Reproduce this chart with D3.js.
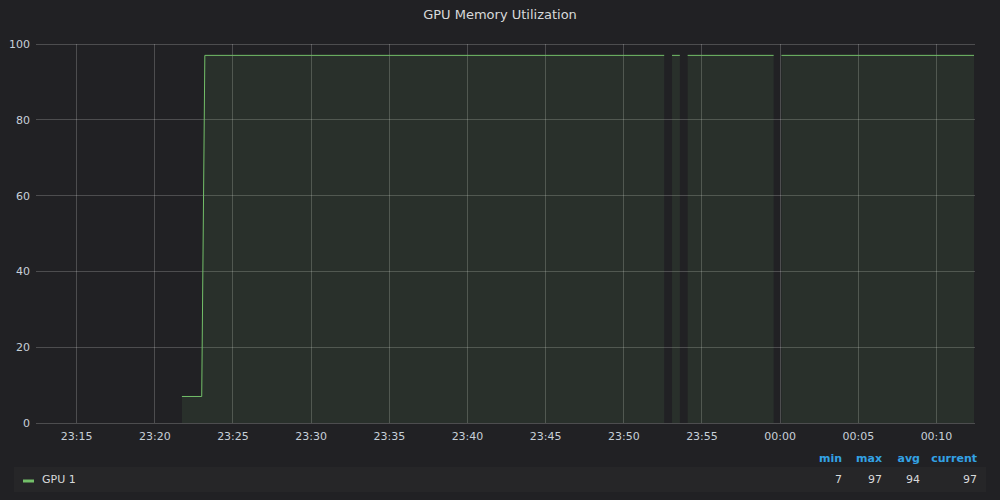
<!DOCTYPE html>
<html><head><meta charset="utf-8">
<script src="https://cdn.jsdelivr.net/npm/d3@7"></script>
<style>
html,body{margin:0;padding:0;background:#212124;}
svg{display:block;font-family:"DejaVu Sans",sans-serif;}
</style></head>
<body><svg id="c" width="1000" height="500"></svg>
<script>
// ---- data ----
const title = "GPU Memory Utilization";
const seriesName = "GPU 1";
const pointTimes = ["23:21:44","23:23:00","23:23:12","23:52:35","23:52:50","23:53:05","23:53:35","23:53:50","23:54:05","23:59:35","23:59:50","00:00:05","00:12:24"];
const pointValues = [7,7,97,97,null,97,97,null,97,97,null,97,97];
const domainTimes = ["23:12:24","00:12:24"];
const yTicks = [0,20,40,60,80,100];
const legendHeaders = ["min","max","avg","current"];
const legendValues = [7,97,94,97];

// ---- helpers ----
function parseT(s){
  const [h,m,sec] = s.split(":").map(Number);
  const day = h < 12 ? 2 : 1;
  return new Date(2020,0,day,h,m,sec);
}
const data = pointTimes.map((t,i)=>({t:parseT(t), v:pointValues[i]}));

const svg = d3.select("#c");
const M = {l:36, r:974, t:44, b:423};
const x = d3.scaleTime().domain(domainTimes.map(parseT)).range([M.l, M.r]);
const y = d3.scaleLinear().domain([0,100]).range([M.b, M.t]);

// title
svg.append("text").attr("x",500).attr("y",19).attr("text-anchor","middle")
  .attr("fill","#d8d9da").attr("font-size",13).text(title);

// grid
const xt = x.ticks(d3.timeMinute.every(5));
svg.append("g").selectAll("line").data(xt).join("line")
  .attr("x1",d=>x(d)).attr("x2",d=>x(d)).attr("y1",M.t).attr("y2",M.b)
  .attr("stroke","#ffffff").attr("stroke-opacity",0.2).attr("shape-rendering","crispEdges");
svg.append("g").selectAll("line").data(yTicks).join("line")
  .attr("x1",M.l).attr("x2",M.r+1).attr("y1",d=>y(d)).attr("y2",d=>y(d))
  .attr("stroke","#ffffff").attr("stroke-opacity",0.2).attr("shape-rendering","crispEdges");

// area + line
const area = d3.area().defined(d=>d.v!==null).x(d=>x(d.t)).y0(y(0)).y1(d=>y(d.v));
const line = d3.line().defined(d=>d.v!==null).x(d=>x(d.t)).y(d=>y(d.v));
svg.append("path").datum(data).attr("d",area).attr("fill","#73bf69").attr("fill-opacity",0.1);
svg.append("path").datum(data).attr("d",line).attr("fill","none").attr("stroke","#73bf69").attr("stroke-width",1);

// axes labels
svg.append("g").selectAll("text").data(xt).join("text")
  .attr("x",d=>x(d)).attr("y",440).attr("text-anchor","middle")
  .attr("fill","#c7d0d9").attr("font-size",11).text(d3.timeFormat("%H:%M"));
svg.append("g").selectAll("text").data(yTicks).join("text")
  .attr("x",30).attr("y",d=>y(d)+4).attr("text-anchor","end")
  .attr("fill","#c7d0d9").attr("font-size",11).text(d=>d);

// legend
const hx = [842,882,920,977];
svg.append("g").selectAll("text").data(legendHeaders).join("text")
  .attr("x",(d,i)=>hx[i]).attr("y",462).attr("text-anchor","end")
  .attr("fill","#33a2e5").attr("font-size",11).attr("font-weight","bold").text(d=>d);
svg.append("rect").attr("x",14).attr("y",467).attr("width",972).attr("height",25).attr("fill","#262628");
svg.append("line").attr("x1",23).attr("x2",34).attr("y1",481).attr("y2",481)
  .attr("stroke","#73bf69").attr("stroke-width",3);
svg.append("text").attr("x",42).attr("y",483).attr("fill","#d8d9da").attr("font-size",11).text(seriesName);
svg.append("g").selectAll("text").data(legendValues).join("text")
  .attr("x",(d,i)=>hx[i]).attr("y",483).attr("text-anchor","end")
  .attr("fill","#d8d9da").attr("font-size",11).text(d=>d);
</script></body></html>
